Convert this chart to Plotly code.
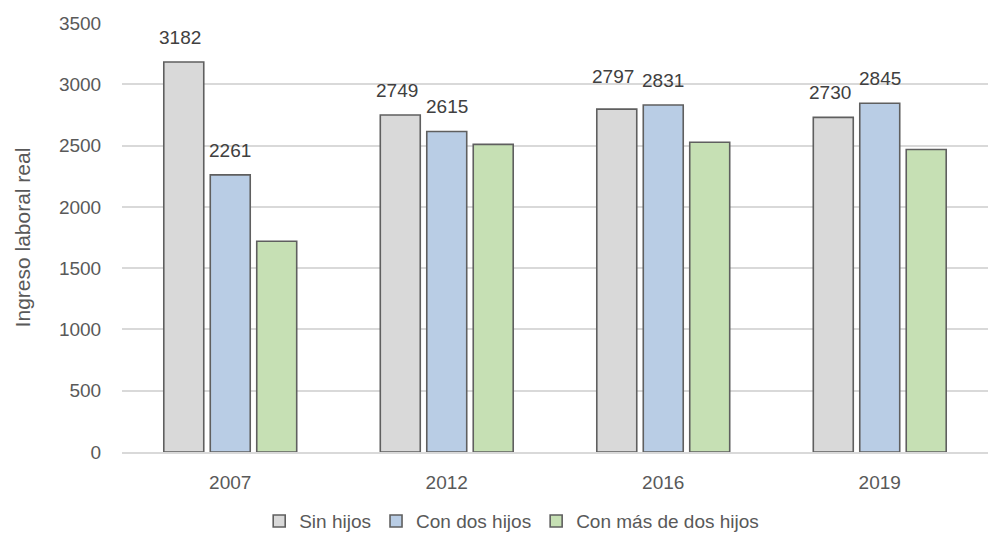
import plotly.graph_objects as go

years = ["2007", "2012", "2016", "2019"]
sin_hijos = [3182, 2749, 2797, 2730]
con_dos_hijos = [2261, 2615, 2831, 2845]
con_mas_de_dos = [1720, 2510, 2527, 2468]

series_names = ["Sin hijos", "Con dos hijos", "Con más de dos hijos"]
fill_colors = ["#D9D9D9", "#B9CDE5", "#C6E0B4"]
font_family = "Liberation Sans Narrow, Arial Narrow, Liberation Sans, Arial, sans-serif"
text_color = "#595959"

fig = go.Figure()
for name, vals, color in zip(series_names, [sin_hijos, con_dos_hijos, con_mas_de_dos], fill_colors):
    fig.add_trace(go.Bar(
        name=name, x=years, y=vals,
        marker=dict(color=color, line=dict(color="#5F5F5F", width=1.6)),
    ))

# value labels for the first two series, placed above each bar
# (category index is used as x so numeric-looking year names are not misread)
label_shift = {0: -50, 1: 0}
extra_y = {(0, 2): 8}
for s_idx, vals in enumerate([sin_hijos, con_dos_hijos]):
    for c_idx, v in enumerate(vals):
        fig.add_annotation(
            x=c_idx, y=v, text=str(v), showarrow=False,
            xref="x", yref="y", xanchor="center", yanchor="bottom",
            xshift=label_shift[s_idx], yshift=12 + extra_y.get((s_idx, c_idx), 0),
            font=dict(family=font_family, size=19, color="#404040"),
        )

fig.update_layout(
    width=1005, height=544,
    margin=dict(l=122, r=17, t=23, b=92, autoexpand=False),
    paper_bgcolor="white", plot_bgcolor="white",
    barmode="group", bargap=0.356, bargroupgap=0.14,
    font=dict(family=font_family, size=19, color=text_color),
    showlegend=True,
    legend=dict(orientation="h", x=0.45, xanchor="center",
                yref="container", y=0.042, yanchor="middle",
                font=dict(family=font_family, size=19, color=text_color),
                traceorder="normal", itemwidth=30),
    yaxis=dict(
        range=[0, 3500], dtick=500, showgrid=True, gridcolor="#D9D9D9", gridwidth=1.5,
        zeroline=False, showline=False,
        ticks="outside", ticklen=16, tickcolor="rgba(0,0,0,0)",
        tickfont=dict(family=font_family, size=19, color=text_color),
        title=dict(text="Ingreso laboral real", standoff=22,
                   font=dict(family=font_family, size=21, color=text_color)),
    ),
    xaxis=dict(
        type="category", range=[-0.5, 3.5],
        showgrid=False, showline=True, linecolor="#D9D9D9", linewidth=1.5,
        ticks="outside", ticklen=12, tickcolor="rgba(0,0,0,0)",
        tickfont=dict(family=font_family, size=19, color=text_color),
    ),
)

fig.write_html("out.html")
